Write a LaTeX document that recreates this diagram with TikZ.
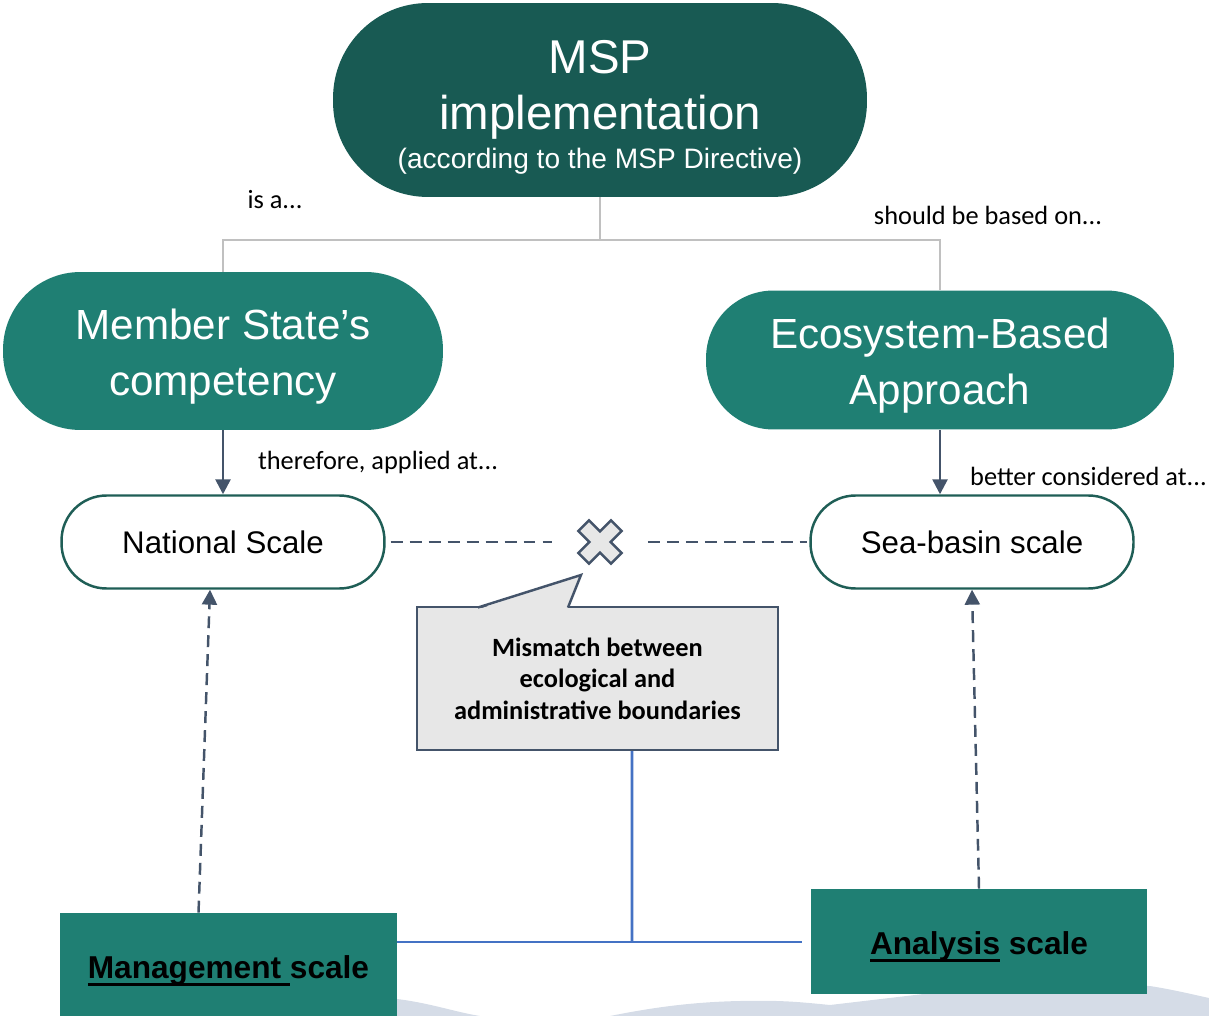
\documentclass[tikz,border=0pt]{standalone}
\usepackage{fontspec}
\setmainfont{Liberation Sans}
\newfontfamily\calibrifont{Carlito}
\usetikzlibrary{arrows.meta,positioning}
\definecolor{mspdark}{HTML}{185A53}
\definecolor{mspteal}{HTML}{1F7F73}
\definecolor{slate}{HTML}{44546A}
\definecolor{boxgrey}{HTML}{E7E7E7}
\definecolor{treegrey}{HTML}{C0C0C0}
\definecolor{rimteal}{HTML}{1F5E56}
\definecolor{linkblue}{HTML}{4472C4}
\definecolor{wavegrey}{HTML}{D5DCE7}
\newcommand{\thickul}[1]{\setbox0\hbox{#1}\rlap{\raisebox{-4.5pt}{\rule{\wd0}{1.7pt}}}\box0\relax}

\begin{document}
\begin{tikzpicture}[x=0.02cm, y=-0.02cm,
        topnode/.style={fill=mspdark, text=white, align=center, inner sep=0pt,
          minimum width=10.68cm, minimum height=3.88cm, rounded corners=1.9cm},
        subnode/.style={fill=mspteal, text=white, align=center, inner sep=0pt,
          font=\fontsize{24}{28}\selectfont},
        scalenode/.style={draw=rimteal, line width=1.4pt, fill=white, inner sep=0pt,
          minimum width=6.46cm, minimum height=1.86cm, rounded corners=0.9cm,
          font=\fontsize{17.8}{21}\selectfont},
        callbox/.style={draw=slate, line width=1.4pt, fill=boxgrey, align=center, inner sep=0pt,
          minimum width=7.22cm, minimum height=2.86cm,
          font=\calibrifont\bfseries\fontsize{15}{18}\selectfont},
        levelbox/.style={fill=mspteal, inner sep=0pt, font=\bfseries\fontsize{18}{22}\selectfont},
        lbl/.style={font=\calibrifont\fontsize{15}{18}\selectfont, inner sep=0pt},
        tree/.style={treegrey, line width=1.6pt},
        solidarrow/.style={slate, line width=1.5pt, -{Triangle[width=8.5pt,length=8.5pt]}},
        dashline/.style={slate, line width=1.4pt, dash pattern=on 6.8pt off 4pt},
        dasharrow/.style={slate, line width=1.4pt, dash pattern=on 6.8pt off 4pt,
          -{Triangle[width=8.5pt,length=8.5pt]}},
        bluelink/.style={linkblue, line width=1.6pt}]
        \useasboundingbox (0,0) rectangle (1209,1016);
        % ---- background wave ----
        \fill[wavegrey] (397,999) .. controls (430,1003) and (455,1012) .. (480,1016)
          -- (610,1016) .. controls (650,1008) and (690,1002) .. (740,1001)
          .. controls (780,1000) and (800,1002) .. (830,1005) -- (1000,985) -- (1150,986)
          .. controls (1175,990) and (1195,995) .. (1209,998) -- (1209,1016) -- (397,1016) -- cycle;
        % ---- main nodes ----
        \node[topnode, font=\fontsize{27}{32}\selectfont] (msp) at (600,100)
          {\rule{0pt}{27pt}MSP\\[0pt]implementation\\[-10pt]{\fontsize{16}{19}\selectfont (according to the MSP Directive)}};
        \node[subnode, minimum width=8.8cm, minimum height=3.16cm, rounded corners=1.55cm] (msc) at (223,351) {\rule{0pt}{24pt}Member State’s\\[4pt]competency};
        \node[subnode, minimum width=9.36cm, minimum height=2.78cm, rounded corners=1.35cm] (eba) at (940,360) {\rule{0pt}{24pt}Ecosystem-Based\\[4pt]Approach};
        % ---- scales ----
        \node[scalenode] (nat) at (223,542) {National Scale};
        \node[scalenode] (sea) at (972,542) {Sea-basin scale};
        \node[minimum width=1.9cm, minimum height=1.9cm, inner sep=0pt] (cross) at (600,542) {};
        \node[callbox] (mism) at (597.5,678.5) {Mismatch between\\ecological and\\administrative boundaries};
        \node[levelbox, minimum width=6.74cm, minimum height=2.3cm] (mgmt) at (228.5,970.5) {\thickul{Management }scale};
        \node[levelbox, minimum width=6.72cm, minimum height=2.1cm] (ana) at (979,941.5) {\rule{0pt}{19pt}\thickul{Analysis} scale};
        % ---- labels ----
        \node[lbl] (isa) at (275,200) {is a.{}.{}.};
        \node[lbl] (based) at (988,215) {should be based on.{}.{}.};
        \node[lbl] (therefore) at (378,462) {therefore, applied at.{}.{}.};
        \node[lbl, anchor=east] (better) at (1207,476) {better considered at.{}.{}.};
        % ---- cross mark ----
        \draw[slate, fill=boxgrey, line width=1.4pt, shift={(cross.center)}, rotate=45]
          (7.5,7.5) -- (7.5,23) -- (-7.5,23) -- (-7.5,7.5) -- (-23,7.5) -- (-23,-7.5)
          -- (-7.5,-7.5) -- (-7.5,-23) -- (7.5,-23) -- (7.5,-7.5) -- (23,-7.5) -- (23,7.5) -- cycle;
        % ---- callout pointer ----
        \coordinate (tip) at (581,575);
        \fill[boxgrey] (479,609) -- (tip) -- (567,609) -- cycle;
        \draw[slate, line width=1.4pt, line join=miter] (478,607.5) -- (tip) -- (568,607.5);
        % ---- tree ----
        \coordinate (fork) at (600,240);
        \draw[tree] (msp.south) -- (fork);
        \draw[tree] (fork) -| (msc.north);
        \draw[tree] (fork) -| (eba.north);
        % ---- arrows ----
        \draw[solidarrow] (msc.south) -- (nat.north);
        \draw[solidarrow] (eba.south) -- (eba.south |- sea.north);
        \draw[dashline] ([xshift=0.1cm]nat.east) -- (cross.west);
        \draw[dashline] (cross.east) -- ([xshift=-0.04cm]sea.west);
        \draw[dasharrow] ([xshift=-0.6cm]mgmt.north) -- ([xshift=-0.26cm]nat.south);
        \draw[dasharrow] (ana.north) -- (sea.south);
        % ---- blue links ----
        \coordinate (join) at (632,942);
        \draw[bluelink] ([xshift=0.69cm]mism.south) -- (join);
        \draw[bluelink, shorten >=0.18cm] (mgmt.east |- join) -- (ana.west |- join);
\end{tikzpicture}
\end{document}
